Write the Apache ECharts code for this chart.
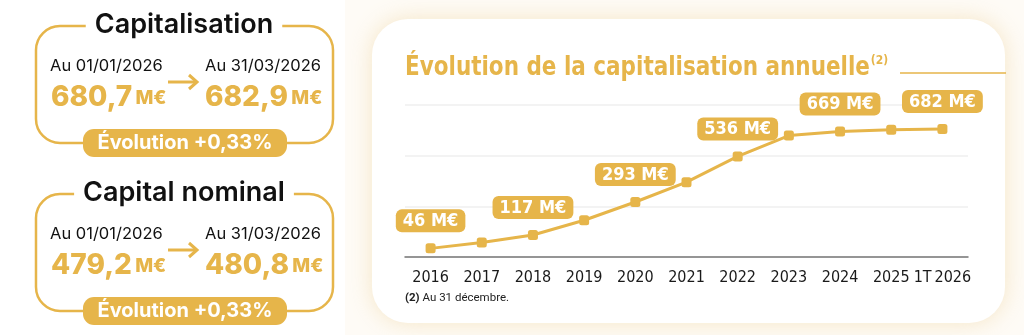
<!DOCTYPE html>
<html>
<head>
<meta charset="utf-8">
<script src="https://cdn.jsdelivr.net/npm/echarts@6/dist/echarts.min.js"></script>
<style>
  html, body { margin: 0; padding: 0; background: #ffffff; }
  #chart { width: 1024px; height: 335px; }
</style>
</head>
<body>
<div id="chart"></div>
<script>
// données du graphique
const years = ["2016", "2017", "2018", "2019", "2020", "2021", "2022", "2023", "2024", "2025", "1T\u202F2026"];
const capitalisation = [46, 77, 117, 196, 293, 399, 536, 647, 669, 678, 682];
const labelledYears = ["2016", "2018", "2020", "2022", "2024", "1T\u202F2026"];

// encadrés de gauche
const boxTitles = ["Capitalisation", "Capital nominal"];
const dateFrom = ["Au 01/01/2026", "Au 01/01/2026"];
const dateTo = ["Au 31/03/2026", "Au 31/03/2026"];
const valuesFrom = ["680,7", "479,2"];
const valuesTo = ["682,9", "480,8"];
const evolutions = ["Évolution +0,33%", "Évolution +0,33%"];

const GOLD = "#e6b54a";
const NARROW = '"Liberation Sans Narrow", "DejaVu Sans Condensed", sans-serif';
const LEFT_FONT = 'Inter, "Open Sans", sans-serif';

const chart = echarts.init(document.getElementById("chart"));

function infoBox(i, dy) {
  const valueRich = {
    v: { fontFamily: LEFT_FONT, fontWeight: 800, fontSize: 28, fill: GOLD },
    u: { fontFamily: LEFT_FONT, fontWeight: 800, fontSize: 19, fill: GOLD },
  };
  return [
    {
      type: "rect",
      shape: { x: 36, y: 26 + dy, width: 297, height: 117, r: 24 },
      style: { fill: "none", stroke: GOLD, lineWidth: 2.5 },
    },
    {
      type: "text",
      style: {
        x: 184, y: 25 + dy,
        text: boxTitles[i],
        align: "center", verticalAlign: "middle",
        font: "600 27px " + LEFT_FONT,
        fill: "#111111",
        backgroundColor: "#ffffff",
        padding: [0, 9],
      },
    },
    {
      type: "text",
      style: {
        x: 50, y: 66 + dy, text: dateFrom[i],
        verticalAlign: "middle", font: "400 16.5px " + LEFT_FONT, fill: "#111111",
      },
    },
    {
      type: "text",
      style: {
        x: 205, y: 66 + dy, text: dateTo[i],
        verticalAlign: "middle", font: "400 16.5px " + LEFT_FONT, fill: "#111111",
      },
    },
    {
      type: "text",
      style: {
        x: 51, y: 98 + dy,
        text: "{v|" + valuesFrom[i] + "} {u|M€}",
        verticalAlign: "middle",
        rich: valueRich,
      },
    },
    {
      type: "text",
      style: {
        x: 205, y: 98 + dy,
        text: "{v|" + valuesTo[i] + "} {u|M€}",
        verticalAlign: "middle",
        rich: valueRich,
      },
    },
    // flèche
    {
      type: "line",
      shape: { x1: 168, y1: 82 + dy, x2: 196, y2: 82 + dy },
      style: { stroke: GOLD, lineWidth: 3 },
    },
    {
      type: "polyline",
      shape: { points: [[189, 75 + dy], [197, 82 + dy], [189, 89 + dy]] },
      style: { stroke: GOLD, lineWidth: 3, fill: "none" },
    },
    // pastille évolution
    {
      type: "rect",
      shape: { x: 83, y: 129 + dy, width: 204, height: 28, r: 11 },
      style: { fill: GOLD },
    },
    {
      type: "text",
      style: {
        x: 185, y: 143 + dy, text: evolutions[i],
        align: "center", verticalAlign: "middle",
        font: "700 20px " + LEFT_FONT, fill: "#ffffff",
      },
    },
  ];
}

const seriesData = capitalisation.map((v, idx) => ({
  value: v,
  label: { show: labelledYears.indexOf(years[idx]) !== -1 },
}));

const option = {
  backgroundColor: "#ffffff",
  animation: false,
  graphic: [
    {
      type: "rect", z: -20,
      shape: { x: 345, y: 0, width: 679, height: 335 },
      style: { fill: "#fefbf6" },
    },
    {
      type: "rect", z: -10,
      shape: { x: 372, y: 19, width: 633, height: 304, r: 36 },
      style: { fill: "#ffffff", shadowBlur: 22, shadowColor: "rgba(236,206,140,0.45)" },
    },
    // titre
    {
      type: "text",
      x: 405, y: 68,
      scaleX: 0.92,
      style: {
        x: 0, y: 0,
        text: "{a|Évolution de la capitalisation annuelle}{b|(2)}",
        verticalAlign: "middle",
        rich: {
          a: { fontFamily: NARROW, fontWeight: "bold", fontSize: 26, fill: GOLD },
          b: { fontFamily: NARROW, fontWeight: "bold", fontSize: 13, fill: GOLD, padding: [0, 0, 14, 1] },
        },
      },
    },
    {
      type: "line",
      shape: { x1: 900, y1: 73, x2: 1006, y2: 73 },
      style: { stroke: GOLD, lineWidth: 1.5 },
    },
    {
      type: "text",
      style: {
        x: 405, y: 298,
        text: "{b|(2)} Au 31 décembre.",
        verticalAlign: "middle",
        rich: {
          b: { fontFamily: "Roboto, sans-serif", fontWeight: 700, fontSize: 11.5, fill: "#222" },
        },
        font: "400 11.5px Roboto, sans-serif",
        fill: "#222",
      },
    },
    ...infoBox(0, 0),
    ...infoBox(1, 168),
  ],
  grid: {
    left: 405,
    right: 56,
    top: 105,
    bottom: 78,
  },
  xAxis: {
    type: "category",
    data: years,
    boundaryGap: true,
    axisLine: { show: true, lineStyle: { color: "#777777", width: 1.5 } },
    axisTick: { show: false },
    axisLabel: {
      color: "#1a1a1a",
      fontFamily: NARROW,
      fontSize: 16,
      margin: 13,
      interval: 0,
    },
  },
  yAxis: {
    type: "value",
    min: 0,
    max: 810,
    interval: 270,
    axisLine: { show: false },
    axisTick: { show: false },
    axisLabel: { show: false },
    splitLine: { show: true, lineStyle: { color: "#efefef", width: 1.5 } },
  },
  series: [
    {
      type: "line",
      data: seriesData,
      symbol: "roundRect",
      symbolSize: 10,
      lineStyle: { color: GOLD, width: 3 },
      itemStyle: { color: GOLD },
      label: {
        position: "top",
        distance: 11,
        formatter: (p) => p.value + " M€",
        color: "#ffffff",
        fontFamily: NARROW,
        fontWeight: "bold",
        fontSize: 18,
        backgroundColor: GOLD,
        borderRadius: 6,
        padding: [3, 7, 2, 7],
      },
    },
  ],
};

chart.setOption(option);
</script>
</body>
</html>
